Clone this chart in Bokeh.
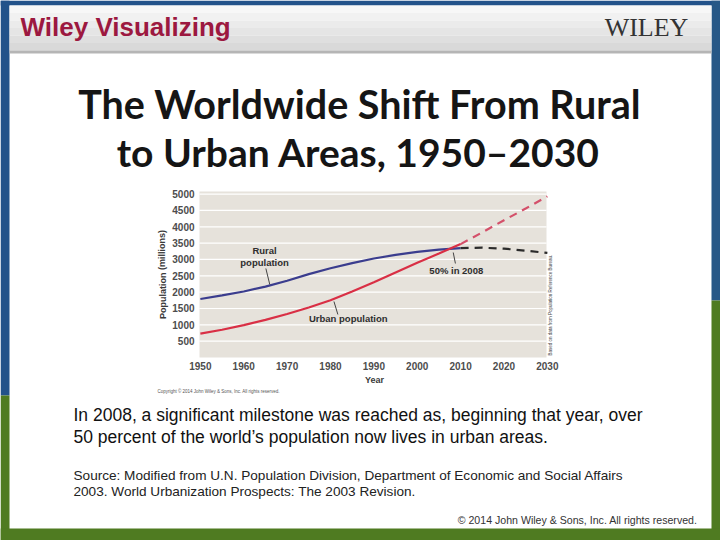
from bokeh.plotting import figure
from bokeh.models import Range1d
from bokeh.core.properties import value
from bokeh.embed import file_html
from bokeh.resources import INLINE

# ---- data (millions) ----
years_hist = [1950, 1955, 1960, 1965, 1970, 1975, 1980, 1985, 1990, 1995, 2000, 2005, 2010]
rural_hist = [1790, 1900, 2020, 2170, 2350, 2550, 2730, 2890, 3030, 3140, 3230, 3300, 3350]
urban_hist = [730, 850, 990, 1150, 1330, 1530, 1750, 2020, 2300, 2600, 2900, 3180, 3470]
years_proj = [2010, 2015, 2020, 2025, 2030]
rural_proj = [3350, 3360, 3330, 3270, 3200]
urban_proj = [3470, 3830, 4200, 4560, 4930]

x_ticks = [1950, 1960, 1970, 1980, 1990, 2000, 2010, 2020, 2030]
x_tick_labels = [str(t) for t in x_ticks]
y_ticks = [500, 1000, 1500, 2000, 2500, 3000, 3500, 4000, 4500, 5000]
y_tick_labels = [str(t) for t in y_ticks]

# callout labels and their leader lines (data units)
callout_text = ["Rural", "population", "Urban population", "50% in 2008"]
callout_x = [1964.8, 1964.8, 1984.1, 2009.0]
callout_y = [3274, 2907, 1193, 2662]
leader_x0 = [1965.1, 1980.8, 2008.3]
leader_y0 = [2724, 1714, 3213]
leader_x1 = [1966.0, 1981.7, 2008.8]
leader_y1 = [2234, 1316, 2877]

# ---- slide geometry (pixels) ----
W, H = 720, 540
PLOT_L, PLOT_R, PLOT_T, PLOT_B = 199, 546, 191, 357
X_LO, X_HI = 1949.8, 2029.8
Y_LO, Y_HI = 0, 5080

p = figure(width=W, height=H, output_backend="svg", toolbar_location=None,
           x_range=Range1d(0, W), y_range=Range1d(H, 0),
           x_axis_location=None, y_axis_location=None, min_border=0)
p.outline_line_color = None
p.background_fill_color = "white"
p.border_fill_color = "white"
p.grid.visible = False

# chart scales placed inside the slide
xs = (X_HI - X_LO) / (PLOT_R - PLOT_L)
ys = (Y_HI - Y_LO) / (PLOT_B - PLOT_T)
p.extra_x_ranges = {"yr": Range1d(X_LO - PLOT_L * xs, X_LO + (W - PLOT_L) * xs)}
p.extra_y_ranges = {"pop": Range1d(Y_LO - (H - PLOT_B) * ys, Y_LO + PLOT_B * ys)}


def box(l, r, t, b, color):
    p.quad(left=[l], right=[r], top=[t], bottom=[b], fill_color=color, line_color=None)


def txt(x, y, text, size, color="#111111", font="Liberation Sans", style="normal",
        align="left", angle=0, **kw):
    p.text(x=x, y=y, text=text, text_font=value(font), text_font_size=value(size),
           text_font_style=style, text_color=color, text_align=align,
           text_baseline="middle", angle=angle, **kw)


# outer background and header
box(0, 720, 0, 5, "#22528a")
box(0, 9, 0, 395, "#22528a")
box(0, 9, 395, 540, "#4f7b21")
box(711, 720, 0, 300, "#275887")
box(711, 720, 300, 540, "#4f7b21")
box(0, 720, 528, 540, "#4f7b21")
shades = ["#f7f7f7", "#f1f1f1", "#ebebeb", "#e5e5e5", "#dfdfdf", "#d9d9d9"]
for i, c in enumerate(shades):
    box(9, 711, 5 + i * 7.5, 5 + (i + 1) * 7.5, c)
box(9, 711, 50, 53, "#b5b5b5")

# ---- chart ----
p.quad(left=[X_LO], right=[X_HI], bottom=[Y_LO], top=[Y_HI], fill_color="#e6e2db",
       line_color=None, x_range_name="yr", y_range_name="pop")
p.segment(x0=[X_LO] * len(y_ticks), x1=[X_HI] * len(y_ticks), y0=y_ticks, y1=y_ticks,
          line_color="white", line_width=1.2, x_range_name="yr", y_range_name="pop")

p.line(years_hist, rural_hist, line_color="#3b3d8e", line_width=2.2, x_range_name="yr", y_range_name="pop")
p.line(years_hist, urban_hist, line_color="#d92f45", line_width=2.2, x_range_name="yr", y_range_name="pop")
p.line(years_proj, rural_proj, line_color="#2b2b2b", line_width=2.2, line_dash="8 6",
       x_range_name="yr", y_range_name="pop")
p.line(years_proj, urban_proj, line_color="#d4506a", line_width=2.2, line_dash="8 6",
       x_range_name="yr", y_range_name="pop")
p.segment(leader_x0, leader_y0, leader_x1, leader_y1, line_color="#444444", line_width=1,
          x_range_name="yr", y_range_name="pop")
txt(callout_x, callout_y, callout_text, "9.5px", color="#2e2e2e", style="bold", align="center",
    x_range_name="yr", y_range_name="pop")

# tick labels (x in years, y in slide pixels / x in slide pixels, y in population)
txt(x_ticks, [365] * len(x_ticks), x_tick_labels, "10px", color="#4d4d4d", style="bold",
    align="center", x_range_name="yr")
txt([194] * len(y_ticks), y_ticks, y_tick_labels, "10px", color="#4d4d4d", style="bold",
    align="right", y_range_name="pop")
txt([374], [379], ["Year"], "9px", color="#3a3a3a", style="bold", align="center")
txt([162], [274], ["Population (millions)"], "9px", color="#3a3a3a", style="bold",
    align="center", angle=1.5708)
txt([157], [391], ["Copyright \u00a9 2014 John Wiley & Sons, Inc. All rights reserved."], "4.5px",
    color="#555555")
txt([550], [355], ["Based on data from Population Reference Bureau."], "4.5px", color="#444444",
    angle=1.5708)

# ---- slide texts ----
txt([20], [26], ["Wiley Visualizing"], "26px", color="#9c1840", style="bold")
txt([646], [27], ["WILEY"], "26px", color="#333333", font="Liberation Serif", align="center")
txt([359], [103], ["The Worldwide Shift From Rural"], "39.5px", color="#151515", font="Lato",
    style="bold", align="center")
txt([358], [151], ["to Urban Areas, 1950\u20132030"], "39px", color="#151515", font="Lato",
    style="bold", align="center")
txt([73, 73], [414, 436],
    ["In 2008, a significant milestone was reached as, beginning that year, over",
     "50 percent of the world\u2019s population now lives in urban areas."], "17.5px")
txt([73, 73], [475, 491],
    ["Source: Modified from U.N. Population Division, Department of Economic and Social Affairs",
     "2003. World Urbanization Prospects: The 2003 Revision."], "13.6px", color="#222222")
txt([697], [519], ["\u00a9 2014 John Wiley & Sons, Inc. All rights reserved."], "10.6px",
    color="#333333", align="right")

open("out.html", "w").write(file_html(p, INLINE))
